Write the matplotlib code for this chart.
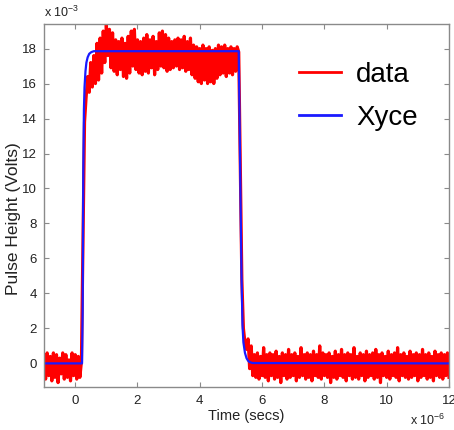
import numpy as np
import matplotlib.pyplot as plt

plt.rcParams['font.family'] = ['Liberation Sans', 'DejaVu Sans']
plt.rcParams['mathtext.fontset'] = 'custom'
plt.rcParams['mathtext.rm'] = 'Liberation Sans'

dt = 0.05

pre_start = -1.00
pre_vals = [0.5, -0.9, 0.6, -0.7, 0.4, -1.0, 0.6, -0.8, 0.5, -1.1,
            0.3, -0.6, 0.6, -0.9, 0.5, -0.8, 0.2, -1.0, 0.6, -0.7,
            0.5, -0.9, 0.4, -0.8, 0.1]

pulse_start = 0.25
pulse_vals = [7.0, 13.8, 15.2, 16.4, 15.5, 17.2, 15.8, 17.6, 16.0, 18.3,
              16.2, 18.6, 16.6, 19.0, 17.2, 19.4, 17.6, 19.1, 16.9, 18.9,
              16.7, 18.5, 16.5, 18.4, 16.8, 18.6, 16.4, 18.3, 16.3, 18.7,
              16.6, 19.0, 17.0, 19.1, 16.8, 18.5, 16.6, 18.4, 16.5, 18.6,
              16.7, 18.8, 16.6, 18.5, 16.9, 18.7, 16.5, 18.4, 16.8, 18.9,
              17.0, 19.0, 16.9, 18.8, 16.7, 18.6, 16.8, 18.4, 16.9, 18.5,
              17.0, 18.6, 16.8, 18.5, 16.9, 18.7, 16.7, 18.4, 16.8, 18.6,
              16.5, 18.2, 16.3, 18.1, 16.1, 18.0, 16.0, 18.2, 16.2, 18.0,
              16.0, 18.1, 16.1, 17.9, 16.0, 18.0, 16.3, 18.2, 16.5, 18.1,
              16.6, 18.2, 16.4, 18.0, 16.6, 18.1, 16.5, 18.0, 16.7, 18.1,
              17.8]

fall_start = 5.30
fall_vals = [11.5, 4.8, 2.0, 1.2, 0.8, 1.4, -0.3, 1.0, -0.7]

post_start = 5.75
post_vals = [0.5, -0.8, 0.6, -0.9, 0.4, -0.7, 0.9, -0.8, 0.5, -1.0,
             0.6, -0.7, 0.5, -0.9, 0.7, -0.8, 0.4, -1.1, 0.6, -0.7,
             0.5, -0.9, 0.8, -0.8, 0.5, -0.7, 0.6, -1.0, 0.4, -0.8,
             0.9, -0.7, 0.5, -0.9, 0.6, -0.8, 0.5, -1.0, 0.7, -0.7,
             0.5, -0.8, 1.0, -0.9, 0.6, -0.7, 0.5, -0.8, 0.6, -1.1,
             0.4, -0.8, 0.7, -0.9, 0.5, -0.7, 0.8, -0.8, 0.5, -1.0,
             0.6, -0.7, 0.5, -0.9, 0.9, -0.8, 0.4, -0.9, 0.6, -0.7,
             0.5, -1.0, 0.7, -0.8, 0.5, -0.7, 0.6, -0.9, 0.8, -0.8,
             0.5, -1.1, 0.6, -0.7, 0.4, -0.8, 0.7, -0.9, 0.5, -0.7,
             0.6, -0.8, 0.9, -1.0, 0.5, -0.7, 0.6, -0.8, 0.4, -0.9,
             0.7, -0.8, 0.5, -0.7, 0.6, -1.0, 0.5, -0.8, 0.8, -0.7,
             0.5, -0.9, 0.6, -0.8, 0.4, -1.0, 0.7, -0.7, 0.5, -0.8,
             0.6, -0.9, 0.5, -0.7, 0.6, -0.8]

# Xyce simulation (smooth)
xyce_t = [-1.0, 0.22, 0.24, 0.26, 0.28, 0.30, 0.33, 0.36, 0.40, 0.45, 0.52, 0.60,
          5.25, 5.28, 5.31, 5.34, 5.37, 5.40, 5.45, 5.50, 5.55, 5.60, 5.70, 12.0]
xyce_v = [0.0, 0.0, 3.0, 11.0, 14.5, 15.8, 16.7, 17.2, 17.5, 17.7, 17.8, 17.85,
          17.85, 13.5, 9.0, 5.0, 2.2, 1.2, 0.6, 0.3, 0.15, 0.07, 0.02, 0.0]

x_ticks = [0, 2, 4, 6, 8, 10, 12]
y_ticks = [0, 2, 4, 6, 8, 10, 12, 14, 16, 18]

segments = [(pre_start, pre_vals), (pulse_start, pulse_vals),
            (fall_start, fall_vals), (post_start, post_vals)]
data_t = np.concatenate([s + dt * np.arange(len(v)) for s, v in segments])
data_v = np.concatenate([np.array(v) for s, v in segments])

fig = plt.figure(figsize=(4.54, 4.30), dpi=100)
ax = fig.add_axes([0.097, 0.100, 0.892, 0.844])

ax.plot(data_t, data_v, color='#ff0000', lw=2.3, label='data')
ax.plot(xyce_t, xyce_v, color='#1a1aff', lw=1.6, label='Xyce')

ax.set_xlim(-1, 12)
ax.set_ylim(-1.35, 19.4)
ax.set_xticks(x_ticks)
ax.set_yticks(y_ticks)

grey = '#8a8a8a'
for sp in ax.spines.values():
    sp.set_color(grey)
    sp.set_linewidth(1.0)
ax.tick_params(direction='in', length=3.5, width=0.8, color=grey,
               top=True, right=True, labelsize=9.5, labelcolor='#222222')
ax.tick_params(axis='y', pad=5)
ax.tick_params(axis='x', pad=6)

ax.set_xlabel('Time (secs)', fontsize=10.5, color='#222222', labelpad=1)
ax.set_ylabel('Pulse Height (Volts)', fontsize=12.5, color='#222222')
ax.yaxis.set_label_coords(-0.056, 0.465)

ax.text(0.0, 1.01, 'x 10$^{-3}$', transform=ax.transAxes, fontsize=9,
        color='#222222', ha='left', va='bottom')
ax.text(0.99, -0.104, 'x 10$^{-6}$', transform=ax.transAxes, fontsize=9,
        color='#222222', ha='right', va='baseline')

leg = ax.legend(loc='upper left', bbox_to_anchor=(0.568, 0.965), frameon=False,
                fontsize=20, handlelength=1.5, handletextpad=0.55, labelspacing=0.62)
for line in leg.get_lines():
    line.set_linewidth(2.0)

fig.savefig('out.png', dpi=100)
